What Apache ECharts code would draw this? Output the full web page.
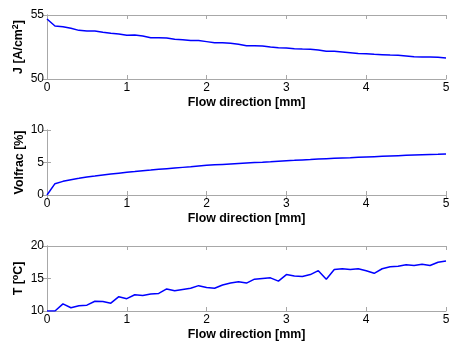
<!DOCTYPE html>
<html>
<head>
<meta charset="utf-8">
<script src="https://cdn.jsdelivr.net/npm/echarts@6/dist/echarts.min.js"></script>
<style>
  html, body { margin: 0; padding: 0; background: #fff; }
  #chart { width: 449px; height: 345px; }
</style>
</head>
<body>
<div id="chart"></div>
<script>
// flow direction positions [mm]
const dist = [0, 0.1, 0.2, 0.3, 0.4, 0.5, 0.6, 0.7, 0.8, 0.9,
  1.0, 1.1, 1.2, 1.3, 1.4, 1.5, 1.6, 1.7, 1.8, 1.9,
  2.0, 2.1, 2.2, 2.3, 2.4, 2.5, 2.6, 2.7, 2.8, 2.9,
  3.0, 3.1, 3.2, 3.3, 3.4, 3.5, 3.6, 3.7, 3.8, 3.9,
  4.0, 4.1, 4.2, 4.3, 4.4, 4.5, 4.6, 4.7, 4.8, 4.9, 5.0];

// current density J [A/cm2]
const currentDensity = [54.69, 54.14, 54.09, 53.96, 53.80, 53.75, 53.75, 53.65, 53.57, 53.52,
  53.41, 53.44, 53.36, 53.23, 53.23, 53.20, 53.10, 53.07, 53.00, 53.00,
  52.92, 52.84, 52.84, 52.79, 52.71, 52.60, 52.60, 52.58, 52.50, 52.45,
  52.42, 52.37, 52.34, 52.32, 52.27, 52.16, 52.16, 52.11, 52.06, 52.00,
  51.98, 51.93, 51.90, 51.87, 51.85, 51.80, 51.74, 51.72, 51.72, 51.69, 51.64];

// volume fraction [%]
const volfrac = [0, 1.74, 2.10, 2.36, 2.56, 2.77, 2.92, 3.08, 3.23, 3.36,
  3.49, 3.60, 3.72, 3.83, 3.95, 4.05, 4.15, 4.25, 4.35, 4.46,
  4.56, 4.64, 4.71, 4.78, 4.85, 4.92, 4.99, 5.05, 5.12, 5.20,
  5.28, 5.33, 5.39, 5.45, 5.52, 5.59, 5.64, 5.69, 5.74, 5.80,
  5.85, 5.90, 5.95, 6.00, 6.05, 6.10, 6.15, 6.20, 6.24, 6.27, 6.31];

// temperature [oC]
const temperature = [10.0, 10.0, 11.1, 10.5, 10.8, 10.9, 11.5, 11.45, 11.2, 12.2,
  11.9, 12.5, 12.4, 12.6, 12.7, 13.4, 13.1, 13.3, 13.5, 13.9,
  13.6, 13.5, 14.0, 14.3, 14.5, 14.3, 14.9, 15.0, 15.1, 14.6,
  15.6, 15.4, 15.3, 15.6, 16.2, 14.9, 16.4, 16.5, 16.4, 16.5,
  16.2, 15.8, 16.5, 16.8, 16.9, 17.1, 17.0, 17.2, 17.0, 17.5, 17.7];

const xTicks = [0, 1, 2, 3, 4, 5];
const panels = [
  {name: 'J [A/cm{sup|2}]', values: currentDensity, min: 50, max: 55, interval: 5},
  {name: 'Volfrac [%]', values: volfrac, min: 0, max: 10, interval: 5},
  {name: 'T [{sup|o}C]', values: temperature, min: 10, max: 20, interval: 5}
];

const frameColor = '#a8a8a8';
const font = 'Liberation Sans, Arial, sans-serif';
const grids = [
  {left: 47, right: 3, top: 15, height: 64, outerBoundsMode: 'none'},
  {left: 47, right: 3, top: 130, height: 65, outerBoundsMode: 'none'},
  {left: 47, right: 3, top: 246, height: 65, outerBoundsMode: 'none'}
];

const xAxis = [];
const yAxis = [];
const series = [];

panels.forEach((p, i) => {
  const tick = {show: true, inside: true, length: 4, lineStyle: {color: frameColor}};
  const line = {show: true, lineStyle: {color: frameColor, width: 1}};
  xAxis.push({
    type: 'value', gridIndex: i, min: xTicks[0], max: xTicks[xTicks.length - 1], interval: 1,
    position: 'bottom',
    name: 'Flow direction [mm]', nameLocation: 'middle', nameGap: 18, nameMoveOverlap: false,
    nameTextStyle: {color: '#000', fontFamily: font, fontSize: 12.4, fontWeight: 'bold'},
    axisLine: line, axisTick: tick, splitLine: {show: false},
    axisLabel: {color: '#000', fontFamily: font, fontSize: 12, margin: 3}
  });
  xAxis.push({
    type: 'value', gridIndex: i, min: xTicks[0], max: xTicks[xTicks.length - 1], interval: 1,
    position: 'top', axisLine: line, axisTick: tick, axisLabel: {show: false}, splitLine: {show: false}
  });
  yAxis.push({
    type: 'value', gridIndex: i, min: p.min, max: p.max, interval: p.interval,
    position: 'left',
    name: p.name, nameLocation: 'middle', nameGap: 21, nameMoveOverlap: false,
    nameTextStyle: {
      color: '#000', fontFamily: font, fontSize: 12.4, fontWeight: 'bold',
      rich: {sup: {fontFamily: font, fontSize: 9, fontWeight: 'bold', verticalAlign: 'top', padding: [0, 0, 6, 0]}}
    },
    axisLine: line, axisTick: tick, splitLine: {show: false},
    axisLabel: {color: '#000', fontFamily: font, fontSize: 12, margin: 3}
  });
  yAxis.push({
    type: 'value', gridIndex: i, min: p.min, max: p.max, interval: p.interval,
    position: 'right', axisLine: line, axisTick: tick, axisLabel: {show: false}, splitLine: {show: false}
  });
  series.push({
    type: 'line', xAxisIndex: i * 2, yAxisIndex: i * 2,
    data: dist.map((d, k) => [d, p.values[k]]),
    showSymbol: false, animation: false,
    lineStyle: {color: '#0000ff', width: 1.5}
  });
});

const chart = echarts.init(document.getElementById('chart'));
chart.setOption({
  animation: false,
  grid: grids,
  xAxis: xAxis,
  yAxis: yAxis,
  series: series
});
</script>
</body>
</html>
